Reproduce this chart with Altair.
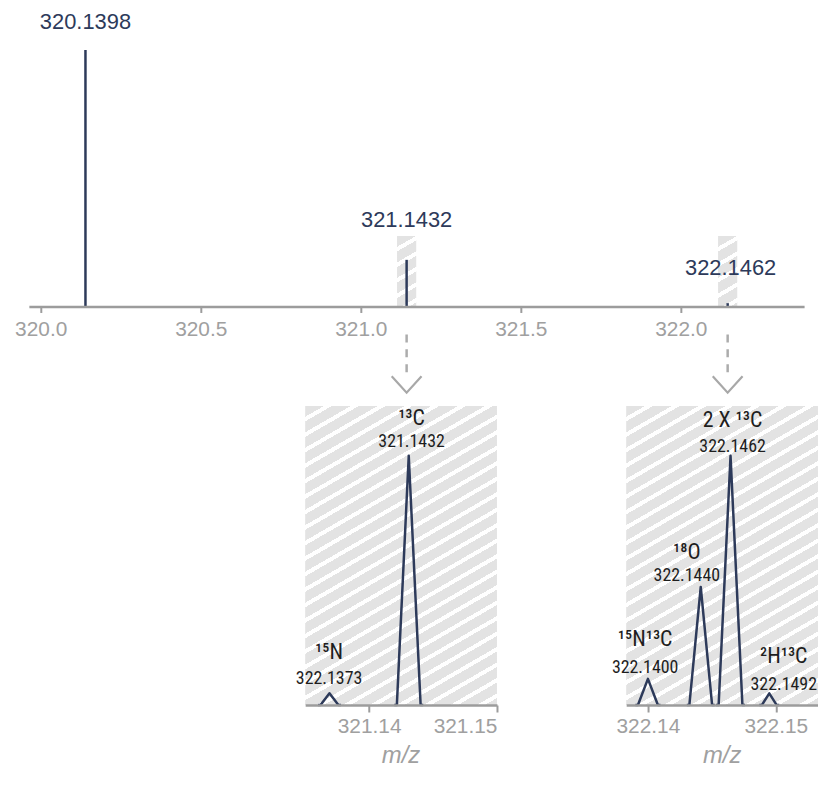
import math
import altair as alt
import pandas as pd

# ---------------- data ----------------
# overview spectrum
top_mz = [320.1398, 321.1432, 322.1462]
top_intensity = [100.0, 18.2, 1.3]
top_labels = ["320.1398", "321.1432", "322.1462"]
top_label_mz = [320.1398, 321.1432, 322.1555]
top_label_y = [110.9, 33.7, 15.1]

# highlighted windows in the overview (zoom regions)
zoom_centers = [321.1432, 322.1462]
zoom_halfwidth = 0.03
zoom_height = 27.5
arrow_y_start = [-10.9, -10.9]
arrow_y_end = [-25.6, -25.6]
arrow_head_y = [-30.4, -30.4]

# zoom panel 1
p1_mz = [321.1369, 321.1431]
p1_height = [4.7, 100.0]
p1_halfwidth = [0.0007, 0.00093]
p1_iso = ["\u00b9\u2075N", "\u00b9\u00b3C"]
p1_mass = ["322.1373", "321.1432"]
p1_label_mz = [321.13687, 321.14332]
p1_iso_y = [21.4, 115.2]
p1_mass_y = [10.5, 105.5]

# zoom panel 2
p2_mz = [322.1400, 322.14413, 322.14646, 322.14949]
p2_height = [10.5, 47.4, 100.0, 4.7]
p2_halfwidth = [0.00078, 0.00089, 0.00093, 0.00058]
p2_iso = ["\u00b9\u2075N\u00b9\u00b3C", "\u00b9\u2078O", "2 X \u00b9\u00b3C", "\u00b2H\u00b9\u00b3C"]
p2_mass = ["322.1400", "322.1440", "322.1462", "322.1492"]
p2_label_mz = [322.13978, 322.14304, 322.14662, 322.15062]
p2_iso_y = [26.5, 61.5, 114.5, 19.5]
p2_mass_y = [14.8, 51.8, 103.5, 8.2]

axis_title = "m/z"
axis_title_y = -20.5

top_domain = [319.963, 322.385]
p1_domain = [321.135, 321.150]
p2_domain = [322.1383, 322.1533]
p1_ticks = [321.14, 321.15]
p2_ticks = [322.14, 322.15]
top_ticks = [320.0, 320.5, 321.0, 321.5, 322.0]

# ---------------- style ----------------
NAVY = "#2d3a5a"
GREY = "#9c9c9c"
LABEL_GREY = "#a0a0a0"
HATCH = "#e3e3e3"
FONT = "Liberation Sans"
NARROW = "Roboto Condensed, DejaVu Sans Condensed, Liberation Sans Narrow, Liberation Sans"
foot = 0.0002

TOP_W, TOP_H = 780, 258
P_W, P_H = 193, 301


def hatch(W, H, theta_deg=30.0, period=13.5, white=4.0):
    th = math.radians(theta_deg)
    s, c = math.sin(th), math.cos(th)
    L = W * s + H * c
    k = L / (W * W * s * s + H * H * c * c)
    stops = []
    d = 0.0
    while d < L - 1e-9:
        g_end = min(d + period - white, L)
        stops.append(alt.GradientStop(offset=round(d / L, 6), color=HATCH))
        stops.append(alt.GradientStop(offset=round(g_end / L, 6), color=HATCH))
        if g_end < L:
            w_end = min(d + period, L)
            stops.append(alt.GradientStop(offset=round(g_end / L, 6), color="#ffffff"))
            stops.append(alt.GradientStop(offset=round(w_end / L, 6), color="#ffffff"))
        d += period
    return alt.LinearGradient(gradient="linear", stops=stops,
                              x1=0, y1=0, x2=k * W * s, y2=k * H * c)


def profiles(mz, height, hw):
    rows = []
    for i, (m, h, w) in enumerate(zip(mz, height, hw)):
        for x, y in [(m - w - foot, 0), (m - w, 0), (m, h), (m + w, 0), (m + w + foot, 0)]:
            rows.append({"peak": i, "mz": x, "inten": y})
    return pd.DataFrame(rows)


# ---------------- overview chart ----------------
top_axis = alt.Axis(values=top_ticks, format=".1f", title=None, grid=False,
                    domainColor=GREY, domainWidth=2.5, tickColor=GREY, tickWidth=2,
                    tickSize=6, labelColor=LABEL_GREY, labelFontSize=21, labelFont=FONT,
                    labelPadding=6, zindex=1)
top_x_scale = alt.Scale(domain=top_domain, nice=False, zero=False)
top_y_scale = alt.Scale(domain=[0, 100], nice=False)


def tx(field):
    return alt.X(field, type="quantitative", scale=top_x_scale, axis=top_axis)


def ty(field):
    return alt.Y(field, type="quantitative", scale=top_y_scale, axis=None)


zoom_df = pd.DataFrame({
    "lo": [c - zoom_halfwidth for c in zoom_centers],
    "hi": [c + zoom_halfwidth for c in zoom_centers],
    "y0": [0, 0],
    "y1": [zoom_height, zoom_height],
    "c": zoom_centers,
    "ys": arrow_y_start,
    "ye": arrow_y_end,
    "yh": arrow_head_y,
})
top_df = pd.DataFrame({"mz": top_mz, "inten": top_intensity, "zero": [0, 0, 0]})
top_lab_df = pd.DataFrame({"mz": top_label_mz, "y": top_label_y, "t": top_labels})

zw = (2 * zoom_halfwidth) / (top_domain[1] - top_domain[0]) * TOP_W
zh = zoom_height / 100 * TOP_H

top_rects = alt.Chart(zoom_df).mark_rect(fill=hatch(zw, zh, period=13.5, white=4)).encode(
    x=tx("lo"), x2="hi", y=ty("y0"), y2="y1")
top_peaks = alt.Chart(top_df).mark_rule(color=NAVY, strokeWidth=2.5).encode(
    x=tx("mz"), y=ty("zero"), y2="inten")
top_text = alt.Chart(top_lab_df).mark_text(color=NAVY, font=FONT, fontSize=22,
                                           baseline="middle", align="center").encode(
    x=tx("mz"), y=ty("y"), text="t:N")
arrows = alt.Chart(zoom_df).mark_rule(color="#acacac", strokeWidth=2.5, strokeDash=[8, 7]).encode(
    x=tx("c"), y=ty("ys"), y2="ye")
heads = alt.Chart(zoom_df).mark_point(shape="M-1,-0.55L0,0.55L1,-0.55", filled=False,
                                      size=900, color="#a8a8a8", strokeWidth=2.2,
                                      opacity=1).encode(x=tx("c"), y=ty("yh"))

top = alt.layer(top_rects, top_peaks, top_text, arrows, heads).properties(
    width=TOP_W, height=TOP_H)


# ---------------- zoom panels ----------------
def panel(domain, ticks, mz, height, hw, iso, mass, lab_mz, iso_y, mass_y):
    ax = alt.Axis(values=ticks, format=".2f", title=None, grid=False,
                  domainColor=GREY, domainWidth=2.5, tickColor=GREY, tickWidth=2,
                  tickSize=7, labelColor=LABEL_GREY, labelFontSize=21, labelFont=FONT,
                  labelPadding=4, zindex=1)
    xs = alt.Scale(domain=domain, nice=False, zero=False)
    ys = alt.Scale(domain=[0, 120], nice=False)

    def px(f):
        return alt.X(f, type="quantitative", scale=xs, axis=ax)

    def py(f):
        return alt.Y(f, type="quantitative", scale=ys, axis=None)

    bg = pd.DataFrame({"lo": [domain[0]], "hi": [domain[1]], "y0": [0], "y1": [120],
                       "mid": [(domain[0] + domain[1]) / 2], "ty": [axis_title_y],
                       "t": [axis_title]})
    rect = alt.Chart(bg).mark_rect(fill=hatch(P_W, P_H)).encode(
        x=px("lo"), x2="hi", y=py("y0"), y2="y1")
    title = alt.Chart(bg).mark_text(font=FONT, fontSize=24, fontStyle="italic",
                                    color=LABEL_GREY, baseline="middle",
                                    align="center").encode(
        x=px("mid"), y=py("ty"), text="t:N")
    lines = alt.Chart(profiles(mz, height, hw)).mark_line(
        color=NAVY, strokeWidth=2.5, strokeJoin="round").encode(
        x=px("mz"), y=py("inten"), detail="peak:N", order="mz:Q")
    lab = pd.DataFrame({"mz": lab_mz, "iso": iso, "mass": mass,
                        "iy": iso_y, "my": mass_y})
    t_iso = alt.Chart(lab).mark_text(font=NARROW, fontSize=22, color="#1e1e1e",
                                     baseline="middle", align="center").encode(
        x=px("mz"), y=py("iy"), text="iso:N")
    t_mass = alt.Chart(lab).mark_text(font=NARROW, fontSize=18, color="#1e1e1e",
                                      baseline="middle", align="center").encode(
        x=px("mz"), y=py("my"), text="mass:N")
    return alt.layer(rect, lines, t_iso, t_mass, title).properties(width=P_W, height=P_H)


panel1 = panel(p1_domain, p1_ticks, p1_mz, p1_height, p1_halfwidth,
               p1_iso, p1_mass, p1_label_mz, p1_iso_y, p1_mass_y)
panel2 = panel(p2_domain, p2_ticks, p2_mz, p2_height, p2_halfwidth,
               p2_iso, p2_mass, p2_label_mz, p2_iso_y, p2_mass_y)

spacer = alt.Chart(pd.DataFrame({"v": [0]})).mark_point(opacity=0).encode(
    x=alt.X("v:Q", axis=None), y=alt.Y("v:Q", axis=None)).properties(width=148, height=P_H)

bottom = alt.hconcat(spacer, panel1, panel2, spacing=130, bounds="flush")

chart = alt.vconcat(top, bottom, spacing=100, bounds="flush").properties(
    padding={"left": 6, "top": 0, "right": 0, "bottom": 0}
).configure_view(stroke=None)

chart.save("out.html", embed_options={"renderer": "svg", "actions": False})
